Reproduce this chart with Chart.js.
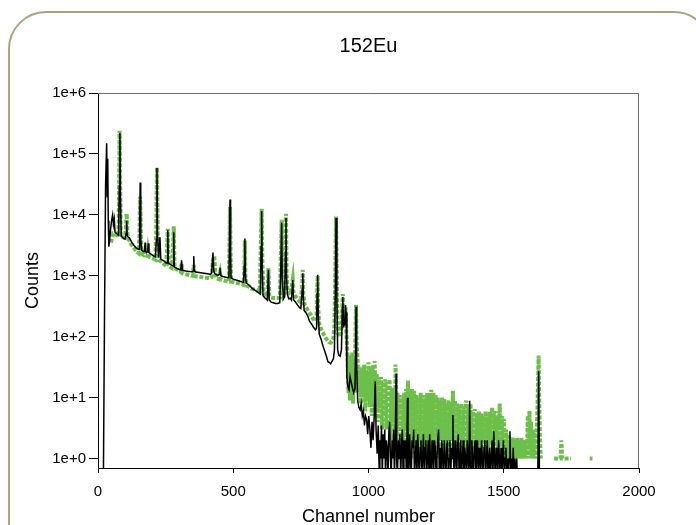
<!DOCTYPE html>
<html>
<head>
<meta charset="utf-8">
<script src="https://cdn.jsdelivr.net/npm/chart.js@4.4.1/dist/chart.umd.min.js"></script>
<style>
  html, body { margin: 0; padding: 0; background: #fff; overflow: hidden; }
  #wrap { position: relative; width: 696px; height: 525px; overflow: hidden; }
  #frame {
    position: absolute; left: 8px; top: 11px; width: 704px; height: 560px;
    border: 2px solid #aba482; border-radius: 38px; box-sizing: border-box;
  }
  #chart { position: absolute; left: 0; top: 0; }
</style>
</head>
<body>
<div id="wrap">
  <div id="frame"></div>
  <canvas id="chart" width="696" height="525"></canvas>
</div>
<script>
// titles
const chartTitle = '152Eu';
const xTitle = 'Channel number';
const yTitle = 'Counts';

// tick values
const channelTicks = [0, 500, 1000, 1500, 2000];
const countTicks = [1, 10, 100, 1000, 10000, 100000, 1000000];

// measured spectrum (black line), [channel, counts]; empty channels are
// kept at 0.5 so they fall below the axis floor (log axis cannot take 0)
const measuredLow = [
  [0,0.5],[20,0.5],[24,200],[28,3e4],[32,1.5e5],[34,2e4],[36,8.3e4],[38,8000],[40,3000],[43,3800],
  [46,5500],[50,8000],[54,10000],[57,7000],[60,8500],[63,5200],[67,5000],[72,4800],[76,4600],[79,3e4],
  [81,2.2e5],[83,2e4],[86,4400],[90,4300],[95,4100],[100,4000],[104,5000],[106,8000],[108,4500],[112,4300],
  [116,4200],[120,3900],[125,3500],[130,3300],[134,3100],[140,2900],[146,2800],[152,2700],[154,6000],[156,3.4e4],
  [158,4000],[162,2600],[168,2500],[172,2500],[174,3500],[176,2500],[180,2400],[184,2500],[186,3400],[188,2400],
  [194,2300],[200,2200],[206,2100],[212,2050],[216,4000],[218,5.9e4],[220,5000],[224,2000],[229,4300],[232,1900],
  [238,1800],[244,1750],[250,1650],[256,1600],[258,5600],[260,1600],[266,1550],[272,1500],[278,1450],[280,5200],
  [282,1400],[288,1350],[294,1300],[300,1280],[306,1250],[309,1800],[312,1240],[318,1220],[324,1200],[330,1190],
  [336,1180],[342,1170],[348,1160],[352,1200],[354,2100],[356,1200],[362,1150],[368,1140],[374,1130],[380,1120],
  [386,1110],[392,1100],[398,1090],[404,1080],[410,1070],[416,1060],[420,1100],[425,2400],[428,1200],[432,1080],
  [438,1040],[444,1020],[448,1050],[451,1350],[454,1000],[460,980],[466,960],[472,950],[478,940],[484,930],
  [486,3000],[488,1.78e4],[490,2500],[492,920],[500,880],[510,850],[520,830],[530,800],[538,780],[541,1500],
  [543,4100],[545,1000],[548,760],[556,720],[562,680],[570,620],[580,580],[590,540],[600,500],[603,3000],
  [605,1.15e4],[607,1500],[610,470],[618,430],[626,400],[630,1250],[633,400],[640,370],[648,360],[656,350],
  [664,350],[672,360],[676,1500],[679,7400],[681,900],[686,420],[690,450],[693,2500],[695,8900],[697,1000],
  [700,500],[705,420],[710,430],[715,400],[720,850],[723,400],[730,370],[738,330],[745,300],[750,290],
  [755,600],[757,1100],[759,450],[762,270],[768,250],[775,220],[782,180],[790,160],[798,140],[804,130],
  [808,140],[810,500],[812,1040],[814,250],[818,110],[825,90],[832,70],[840,55],[846,45],[850,39],
  [855,38],[860,36],[866,40],[870,43],[874,60],[877,500],[880,8900],[883,500],[886,60],[890,50],
  [895,48],[900,60],[903,300],[905,450],[908,150],[912,160],[915,330],[917,250],[920,22],[924,15],
  [928,13.5],[932,22],[936,18],[940,15],[945,12],[950,14],[952,60],[954,310],[956,40]
];
const measuredTail = [
  [960,9],[964,7],[969,6.3],[973,8],[977,5],[981,6],[985,3.5],[989,5],[993,4.4],[997,2.5],
  [1001,5],[1005,3],[1009,1.5],[1013,4],[1017,2],[1021,5],[1025,18.5],[1028,3],[1032,1.2],[1036,3.5],
  [1040,0.5],[1042,2],[1045,1],[1048,3.5],[1051,0.5],[1054,2.5],[1057,1],[1060,3],[1063,0.5],[1066,2],
  [1069,1.5],[1072,0.5],[1075,2.5],[1078,4],[1081,1],[1084,0.5],[1087,2],[1090,1],[1093,3],[1096,0.5],
  [1099,2],[1102,25],[1104,1],[1107,0.5],[1110,2],[1113,1],[1116,2.5],[1119,0.5],[1122,1.5],[1125,3],
  [1128,0.5],[1131,2],[1134,1],[1137,2],[1140,0.5],[1142,2],[1144,10],[1146,1],[1149,0.5],[1152,2.5],
  [1155,1],[1158,0.5],[1161,2],[1164,1.5],[1167,3],[1170,0.5],[1173,1],[1176,2],[1179,0.5],[1182,2.5],
  [1185,1],[1188,0.5],[1191,1.5],[1194,2],[1197,0.5],[1200,1],[1203,2.5],[1206,0.5],[1209,1.5],[1212,2],
  [1215,0.5],[1218,1],[1221,2],[1224,0.5],[1226,2.5],[1229,1],[1232,0.5],[1235,2],[1238,1],[1241,0.5],
  [1244,2],[1247,1.5],[1250,0.5],[1253,1],[1256,2],[1259,3],[1262,0.5],[1265,1.5],[1268,0.5],[1271,2],
  [1274,1],[1277,0.5],[1280,2],[1283,1],[1286,0.5],[1289,1.5],[1292,2],[1295,0.5],[1298,1],[1301,2],
  [1304,0.5],[1307,1.5],[1310,1],[1312,5.2],[1314,1],[1317,0.5],[1320,2],[1323,1],[1326,0.5],[1329,1.5],
  [1332,2.5],[1335,0.5],[1338,1],[1341,2],[1344,0.5],[1347,1],[1350,2],[1353,0.5],[1356,1.5],[1359,1],
  [1362,0.5],[1365,2],[1368,1],[1371,0.5],[1374,8.9],[1376,1],[1379,0.5],[1382,2],[1385,1],[1388,0.5],
  [1391,1.5],[1394,2],[1397,0.5],[1400,1],[1403,2],[1406,0.5],[1409,1.5],[1412,1],[1415,0.5],[1418,2],
  [1421,1],[1424,0.5],[1427,1.5],[1430,2],[1433,0.5],[1436,1],[1439,2],[1442,0.5],[1445,1],[1448,1.5],
  [1451,0.5],[1454,1],[1457,2],[1460,0.5],[1463,2.8],[1466,1],[1469,0.5],[1472,1.5],[1475,1],[1478,0.5],
  [1481,2],[1484,1],[1487,0.5],[1490,1.5],[1493,0.5],[1496,1],[1499,2],[1502,0.5],[1505,1],[1508,1.5],
  [1511,0.5],[1514,1],[1517,0.5],[1520,1],[1523,2.8],[1526,0.5],[1529,1],[1532,0.5],[1535,1.5],[1538,0.5],
  [1541,1],[1544,0.5],[1548,1],[1550,0.5],[1552,null],[1626,0.5],[1629,27],[1632,0.5]
];

// simulated spectrum (green dotted line), [channel, counts]
const simulatedLow = [
  [48,3500],[52,4200],[56,5000],[60,5000],[64,4800],[68,4700],[72,4600],[76,4500],[78,3e4],[80,2.4e5],
  [82,3e4],[84,4500],[88,4400],[92,4300],[96,4200],[100,4300],[103,6000],[106,10500],[109,5000],[112,4000],
  [116,3800],[120,3500],[125,3200],[130,3000],[135,2800],[140,2600],[145,2450],[150,2350],[153,4000],[156,2e4],
  [159,3500],[162,2300],[168,2200],[174,2500],[178,2150],[184,2100],[186,2600],[190,2050],[196,2000],[202,1950],
  [208,1900],[212,1850],[215,5000],[218,6e4],[221,4000],[224,1800],[230,1750],[236,1700],[242,1600],[248,1500],
  [252,1450],[255,2500],[258,5900],[261,1500],[266,1400],[272,1350],[277,2500],[280,6500],[283,1400],[288,1300],
  [294,1250],[300,1200],[306,1150],[309,1600],[312,1120],[320,1080],[328,1050],[336,1030],[344,1010],[350,1000],
  [354,1500],[358,980],[366,970],[374,960],[382,950],[390,940],[398,930],[406,920],[414,910],[420,950],
  [425,1800],[430,2100],[433,1100],[438,900],[446,880],[451,1100],[454,870],[462,850],[470,830],[478,820],
  [484,810],[486,3000],[488,1.35e4],[490,2500],[492,800],[500,790],[510,770],[520,750],[530,730],[538,710],
  [541,1200],[543,3800],[545,900],[550,690],[558,660],[566,620],[574,600],[582,590],[590,570],[598,550],
  [602,3000],[605,1.26e4],[608,1500],[612,520],[620,490],[627,470],[630,1340],[633,480],[640,440],[648,430],
  [656,430],[664,430],[672,440],[677,3000],[679,8300],[681,1200],[686,500],[690,550],[693,3000],[695,1.04e4],
  [697,1200],[700,560],[706,520],[712,500],[717,700],[720,860],[723,520],[730,460],[738,420],[745,380],
  [750,370],[755,700],[757,1250],[759,500],[764,330],[770,300],[778,260],[786,230],[794,200],[802,180],
  [808,190],[810,500],[812,1000],[814,300],[818,160],[826,130],[834,110],[842,95],[848,88],[854,82],
  [860,80],[866,85],[870,95],[874,150],[877,1000],[880,9400],[883,800],[886,120],[892,100],[898,110],
  [902,200],[905,500],[908,250],[912,150],[915,300],[918,120],[922,57],[924,20],[926,12],[928,50],
  [930,25],[931,9],[934,45],[936,18],[937,10],[940,55],[942,20],[943,8],[946,45],[948,22],
  [949,12],[952,120],[954,330],[956,80]
];
const simulatedTail = [
  [960,40],[962,18],[964,12],[966,25],[968,32],[970,14],[972,8],[974,20],[976,30],[978,15],
  [980,10],[982,22],[984,35],[986,12],[988,6],[990,16],[992,28],[994,13],[996,9],[998,20],
  [1000,38],[1002,15],[1004,7],[1006,18],[1008,30],[1010,11],[1012,5],[1014,16],[1016,34],[1018,14],
  [1020,8],[1023,40],[1026,6],[1028,15],[1030,25],[1032,9],[1034,4],[1036,12],[1038,22],[1040,10],
  [1042,6],[1044,14],[1046,22],[1048,8],[1050,3],[1052,10],[1054,18],[1056,9],[1058,5],[1060,12],
  [1062,20],[1064,7],[1066,3],[1068,9],[1070,18],[1072,8],[1074,4],[1076,11],[1078,20],[1080,6],
  [1082,2],[1084,8],[1086,15],[1088,7],[1090,4],[1092,9],[1094,14],[1096,6],[1098,3],[1100,35],
  [1103,2],[1105,7],[1107,12],[1109,5],[1111,2],[1113,7],[1115,11],[1117,5],[1119,3],[1121,6],
  [1123,10],[1125,4],[1127,1],[1129,6],[1131,12],[1133,5],[1135,2],[1137,7],[1139,14],[1141,6],
  [1143,3],[1146,19],[1149,2],[1151,6],[1153,12],[1155,4],[1157,1],[1159,7],[1161,14],[1163,5],
  [1165,2],[1167,7],[1169,13],[1171,4],[1173,1],[1175,6],[1177,11],[1179,5],[1181,2],[1183,5],
  [1185,10],[1187,4],[1189,1],[1191,6],[1193,12],[1195,5],[1197,2],[1199,6],[1201,11],[1203,4],
  [1205,1],[1207,5],[1209,10],[1211,4],[1213,2],[1215,6],[1217,12],[1219,4],[1221,1],[1223,6],
  [1225,11],[1227,5],[1229,2],[1232,13.5],[1234,4],[1236,1],[1238,6],[1240,12],[1242,5],[1244,2],
  [1246,6],[1248,11],[1250,4],[1252,1],[1254,5],[1256,10],[1258,4],[1260,2],[1262,5],[1264,9],
  [1266,4],[1268,1],[1270,5],[1272,10],[1274,4],[1276,2],[1278,5],[1280,9.5],[1282,4],[1284,1],
  [1286,4],[1288,8],[1290,4],[1292,2],[1294,5],[1296,9],[1298,3],[1300,1],[1302,4],[1304,8],
  [1306,4],[1308,2],[1310,6],[1312,13],[1314,4],[1316,1],[1318,5],[1320,9],[1322,4],[1324,2],
  [1326,4],[1328,8],[1330,3],[1332,1],[1334,4],[1336,7.5],[1338,3],[1340,2],[1342,4],[1344,8],
  [1346,3],[1348,1],[1350,4],[1352,7],[1354,3],[1356,2],[1358,5],[1361,9],[1363,3],[1365,1],
  [1367,4],[1369,7],[1371,3],[1373,2],[1375,4],[1377,8],[1379,3],[1381,1],[1383,3],[1385,6],
  [1387,3],[1389,2],[1391,4],[1393,6.5],[1395,3],[1397,1],[1399,3],[1401,5.5],[1403,3],[1405,2],
  [1407,4],[1409,6],[1411,3],[1413,1],[1415,3],[1417,5.5],[1419,3],[1421,2],[1423,3],[1425,5],
  [1427,2],[1429,1],[1431,3],[1433,6],[1435,3],[1437,2],[1439,3],[1441,5],[1443,2],[1445,1],
  [1447,3],[1449,6],[1451,3],[1453,2],[1455,4],[1457,7],[1459,3],[1461,1],[1463,3],[1465,6],
  [1467,3],[1469,2],[1471,3],[1473,5],[1475,2],[1477,1],[1479,3],[1481,6],[1483,3],[1485,8],
  [1487,3],[1489,1],[1491,3],[1493,5],[1495,2],[1497,2],[1499,3],[1501,4.5],[1503,2],[1505,1],
  [1507,2],[1509,3],[1511,1.5],[1513,1],[1515,2],[1517,2.5],[1519,1.5],[1521,1],[1523,1.5],[1525,2],
  [1527,1.5],[1529,1],[1531,1.5],[1533,2.2],[1535,1.5],[1537,1],[1539,1.5],[1541,2],[1543,1.5],[1545,1],
  [1547,1.5],[1549,2.2],[1551,1.5],[1553,1],[1555,1.5],[1557,2],[1559,1.5],[1561,1],[1563,1.5],[1565,2.2],
  [1567,1.5],[1569,1],[1571,1.5],[1573,2],[1575,1.5],[1577,1],[1579,1.5],[1581,2],[1583,1.5],[1585,1],
  [1587,2],[1589,5],[1591,2],[1592,1],[1595,6],[1598,1.5],[1601,4],[1604,1],[1607,3],[1610,1],
  [1614,3],[1617,1],[1620,2],[1624,5],[1627,20],[1629,49],[1631,10],[1634,2],[1637,1],[1640,null],
  [1686,1],[1700,1],[1710,1],[1713,2],[1716,1],[1730,1],[1749,1],[1760,null],
  [1818,1],[1828,1]
];

const measured = measuredLow.concat(measuredTail);
const simulated = simulatedLow.concat(simulatedTail);

// top and right edges of the plot box
const boxPlugin = {
  id: 'box',
  afterDraw(chart) {
    const { ctx, chartArea: a } = chart;
    ctx.save();
    ctx.strokeStyle = '#6e6e6e';
    ctx.lineWidth = 1;
    ctx.beginPath();
    ctx.moveTo(a.left, a.top + 0.5);
    ctx.lineTo(a.right - 0.5, a.top + 0.5);
    ctx.lineTo(a.right - 0.5, a.bottom);
    ctx.stroke();
    ctx.restore();
  }
};

Chart.defaults.font.family = '"Liberation Sans", Arial, sans-serif';
Chart.defaults.color = '#000';

new Chart(document.getElementById('chart'), {
  type: 'line',
  data: {
    datasets: [
      {
        label: 'measured',
        data: measured,
        borderColor: '#000',
        borderWidth: 1.5,
        pointRadius: 0,
        tension: 0
      },
      {
        label: 'simulated',
        data: simulated,
        borderColor: '#6cbf48',
        borderWidth: 4,
        borderDash: [4, 1.7],
        pointRadius: 0,
        tension: 0
      }
    ]
  },
  options: {
    responsive: false,
    animation: false,
    devicePixelRatio: 1,
    layout: { padding: { left: 24, right: 57, top: 33, bottom: 0 } },
    plugins: {
      legend: { display: false },
      tooltip: { enabled: false },
      title: {
        display: true,
        text: chartTitle,
        fullSize: false,
        font: { size: 20, weight: 'normal', lineHeight: 1.2 },
        padding: { top: 1, bottom: 35 }
      }
    },
    scales: {
      x: {
        type: 'linear',
        min: 0,
        max: 2000,
        afterBuildTicks: s => { s.ticks = channelTicks.map(v => ({ value: v })); },
        afterFit: s => { s.height = 57; },
        ticks: {
          font: { size: 15 },
          padding: 10,
          maxRotation: 0,
          callback: v => String(v)
        },
        grid: { drawOnChartArea: false, tickLength: 5, color: '#000' },
        border: { color: '#000', width: 1 },
        title: {
          display: true,
          text: xTitle,
          font: { size: 18, lineHeight: 1 },
          padding: { top: 0, bottom: -1 }
        }
      },
      y: {
        type: 'logarithmic',
        min: 0.7,
        max: 1e6,
        afterBuildTicks: s => { s.ticks = countTicks.map(v => ({ value: v })); },
        afterFit: s => { s.width = 74; },
        ticks: {
          font: { size: 15 },
          padding: 3,
          callback: v => '1e+' + Math.round(Math.log10(v))
        },
        grid: { drawOnChartArea: false, tickLength: 9, color: '#000' },
        border: { color: '#000', width: 1 },
        title: {
          display: true,
          text: yTitle,
          font: { size: 18, lineHeight: 1 },
          padding: { top: 0, bottom: 0 }
        }
      }
    }
  },
  plugins: [boxPlugin]
});
</script>
</body>
</html>
